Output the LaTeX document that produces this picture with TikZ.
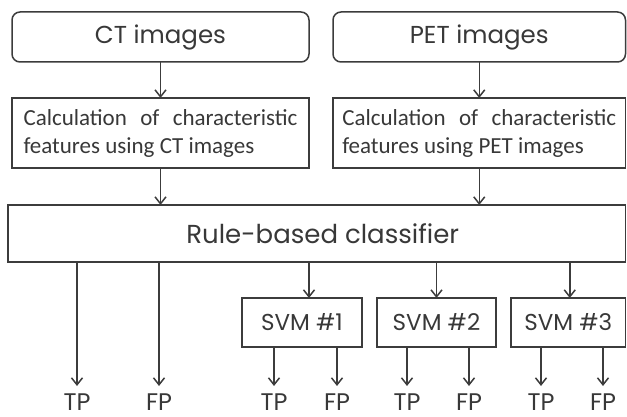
\documentclass[tikz,border=0pt]{standalone}
\usepackage{fontspec}
\setmainfont{Poppins}
\newfontfamily\calcfont{Carlito}
\usetikzlibrary{arrows.meta}
\definecolor{linec}{HTML}{3C3C3C}
\definecolor{txtc}{HTML}{383838}
\tikzset{
  box/.style={draw=linec, line width=1.5pt, inner sep=0pt, outer sep=0pt,
    text=txtc, align=center},
  srcbox/.style={box, rounded corners=8pt, minimum width=297pt, minimum height=50pt,
    font=\fontsize{24.5}{28}\selectfont},
  calcbox/.style={box, minimum width=297pt, minimum height=70pt,
    font=\calcfont\fontsize{23}{28}\selectfont, align=left},
  svmbox/.style={box, minimum height=49pt, font=\fontsize{23}{26}\selectfont},
  outlbl/.style={anchor=north, inner sep=0pt, outer ysep=8pt, text=txtc,
    font=\fontsize{24}{26}\selectfont},
  arr/.style={draw=linec, line width=1.5pt,
    -{Straight Barb[length=7pt,width=11pt,line width=1.5pt]}}
}
\begin{document}
\begin{tikzpicture}[x=1pt,y=-1pt]
  \useasboundingbox (0,0) rectangle (627,417);

  % image sources
  \node[srcbox] (ct)  at (160.5,37) {CT images};
  \node[srcbox, minimum width=292.5pt] (pet) at (479.25,37) {PET images};

  % feature calculation
  \node[calcbox] (fct) at (160.5,133)
    {\hbox to 274pt{Calculation\hfill of\hfill characteristic}\\features using CT images};
  \node[calcbox, minimum width=292.5pt] (fpet) at (479.25,133)
    {\hbox to 274pt{Calculation\hfill of\hfill characteristic}\\features using PET images};

  % rule-based stage
  \node[box, minimum width=617.5pt, minimum height=57pt,
        font=\fontsize{26}{30}\selectfont] (rule) at (316.75,233.5)
    {\hspace*{12pt}Rule-based classifier};

  % SVM stage
  \node[svmbox, minimum width=120pt] (svm1) at (302,322.5) {SVM \#1};
  \node[svmbox, minimum width=119pt] (svm2) at (436.5,322.5) {SVM \#2};
  \node[svmbox, minimum width=114.5pt] (svm3) at (568.25,322.5) {SVM \#3};

  % outcomes
  \node[outlbl] (tp0) at (77,386) {TP};
  \node[outlbl] (fp0) at (159,386) {FP};
  \node[outlbl] (tp1) at (274,386) {TP};
  \node[outlbl] (fp1) at (337,386) {FP};
  \node[outlbl] (tp2) at (407,386) {TP};
  \node[outlbl] (fp2) at (469,386) {FP};
  \node[outlbl] (tp3) at (541,386) {TP};
  \node[outlbl] (fp3) at (603,386) {FP};

  % connectors
  \draw[arr] (ct) -- (fct);
  \draw[arr] (pet) -- (fpet);
  \draw[arr] (fct) -- (fct |- rule.north);
  \draw[arr] (fpet) -- (fpet |- rule.north);
  \draw[arr] (rule.south -| tp0) -- (tp0.north);
  \draw[arr] (rule.south -| fp0) -- (fp0.north);
  \draw[arr] ([xshift=7pt]svm1.north |- rule.south) -- ([xshift=7pt]svm1.north);
  \draw[arr] (svm2.north |- rule.south) -- (svm2.north);
  \draw[arr] ([xshift=1.5pt]svm3.north |- rule.south) -- ([xshift=1.5pt]svm3.north);
  \draw[arr] (svm1.south -| tp1) -- (tp1.north);
  \draw[arr] (svm1.south -| fp1) -- (fp1.north);
  \draw[arr] (svm2.south -| tp2) -- (tp2.north);
  \draw[arr] (svm2.south -| fp2) -- (fp2.north);
  \draw[arr] (svm3.south -| tp3) -- (tp3.north);
  \draw[arr] (svm3.south -| fp3) -- (fp3.north);
\end{tikzpicture}
\end{document}
